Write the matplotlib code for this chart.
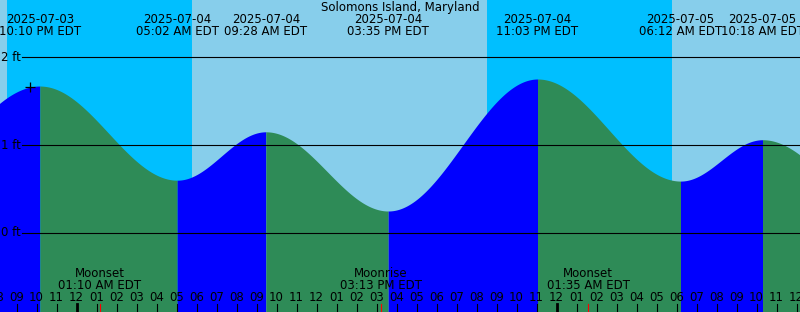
from datetime import datetime
import numpy as np
import matplotlib.pyplot as plt
import matplotlib.transforms as mtransforms

plt.rcParams['font.family'] = ['DejaVu Sans']

# tide extremes (first and last are just off the chart, estimated)
tide_stamps = ["2025-07-03 13:53", "2025-07-03 22:10", "2025-07-04 05:02",
               "2025-07-04 09:28", "2025-07-04 15:35", "2025-07-04 23:03",
               "2025-07-05 06:12", "2025-07-05 10:18", "2025-07-05 16:25"]
tide_heights = [0.25, 1.67, 0.60, 1.15, 0.25, 1.75, 0.59, 1.06, 0.25]

# night (sunset -> sunrise)
sunsets = ["2025-07-03 20:31", "2025-07-04 20:31"]
sunrises = ["2025-07-04 05:46", "2025-07-05 05:46"]

moon_stamps = ["2025-07-04 01:10", "2025-07-04 15:13", "2025-07-05 01:35"]
moon_names = ["Moonset", "Moonrise", "Moonset"]

now_stamp = "2025-07-03 21:40"
station = "Solomons Island, Maryland"
grid_ft = [0, 1, 2]

day_color = "#87CEEB"
night_color = "#00BFFF"
rise_color = "#0000FF"
fall_color = "#2E8B57"
fs = 8.5

base = datetime(2025, 7, 4)


def hrs(s):
    d = datetime.strptime(s, "%Y-%m-%d %H:%M")
    return (d - base).total_seconds() / 3600.0


def tide_at(t):
    tt = [hrs(s) for s in tide_stamps]
    for i in range(len(tt) - 1):
        if tt[i] <= t <= tt[i + 1]:
            f = (t - tt[i]) / (tt[i + 1] - tt[i])
            return tide_heights[i] + (tide_heights[i + 1] - tide_heights[i]) * (1 - np.cos(np.pi * f)) / 2
    return np.nan


W, H = 800, 312
x0 = 76.5      # pixel of midnight 07-04
pph = 20.0     # pixels per hour
fig = plt.figure(figsize=(8, 3.12), dpi=100)
ax = fig.add_axes([0, 0, 1, 1])
xmin, xmax = -x0 / pph, (W - x0) / pph
ymin, ymax = (233 - 312) / 88.0, 233 / 88.0
ax.set_xlim(xmin, xmax)
ax.set_ylim(ymin, ymax)
ax.axis('off')
ax.add_patch(plt.Rectangle((xmin, ymin), xmax - xmin, ymax - ymin, color=day_color, zorder=0))

# nights
for s, r in zip(sunsets, sunrises):
    ax.axvspan(hrs(s), hrs(r), color=night_color, lw=0, zorder=1)

# tide curve, blue rising, green falling
tt = [hrs(s) for s in tide_stamps]
for i in range(len(tt) - 1):
    t = np.linspace(tt[i], tt[i + 1], 200)
    h = np.array([tide_at(v) for v in t])
    col = rise_color if tide_heights[i + 1] > tide_heights[i] else fall_color
    ax.fill_between(t, ymin, h, color=col, lw=0, zorder=2)

# height lines
for g in grid_ft:
    ax.axhline(g, xmin=22 / W, xmax=1, color='black', lw=0.8, zorder=3)
    ax.text(20.5 / W, g, f"{g} ft", transform=ax.get_yaxis_transform(),
            ha='right', va='center', fontsize=fs, zorder=4)

# current time marker
tn = hrs(now_stamp)
ax.plot([tn], [tide_at(tn)], marker='+', color='black', ms=7, mew=0.9, zorder=4)

trans = mtransforms.blended_transform_factory(ax.transData, fig.transFigure)


def fy(p):
    return 1 - p / H


fig.text(0.5, fy(7.5), station, ha='center', va='center', fontsize=fs)
for i in range(1, len(tide_stamps) - 1):
    d = datetime.strptime(tide_stamps[i], "%Y-%m-%d %H:%M")
    ax.text(tt[i], fy(19.5), d.strftime("%Y-%m-%d"), transform=trans,
            ha='center', va='center', fontsize=fs, zorder=5)
    ax.text(tt[i], fy(31.5), d.strftime("%I:%M %p EDT"), transform=trans,
            ha='center', va='center', fontsize=fs, zorder=5)

# moon events
for s, n in zip(moon_stamps, moon_names):
    d = datetime.strptime(s, "%Y-%m-%d %H:%M")
    ax.text(hrs(s), fy(273.5), n, transform=trans, ha='center', va='center', fontsize=fs, zorder=5)
    ax.text(hrs(s), fy(285.5), d.strftime("%I:%M %p EDT"), transform=trans,
            ha='center', va='center', fontsize=fs, zorder=5)
    ax.plot([hrs(s), hrs(s)], [fy(304), fy(312)], transform=trans, color='red', lw=0.8, zorder=5)

# hour ticks
for hr in range(int(np.floor(xmin)), int(np.ceil(xmax)) + 1):
    lab = f"{(hr % 24 + 11) % 12 + 1:02d}"
    ax.text(hr, fy(297.5), lab, transform=trans, ha='center', va='center', fontsize=fs, zorder=5)
    lw = 2.0 if hr % 24 == 0 else 0.8
    ax.plot([hr, hr], [fy(304), fy(312)], transform=trans, color='black', lw=lw, zorder=5)

fig.savefig("out.png", dpi=100)
